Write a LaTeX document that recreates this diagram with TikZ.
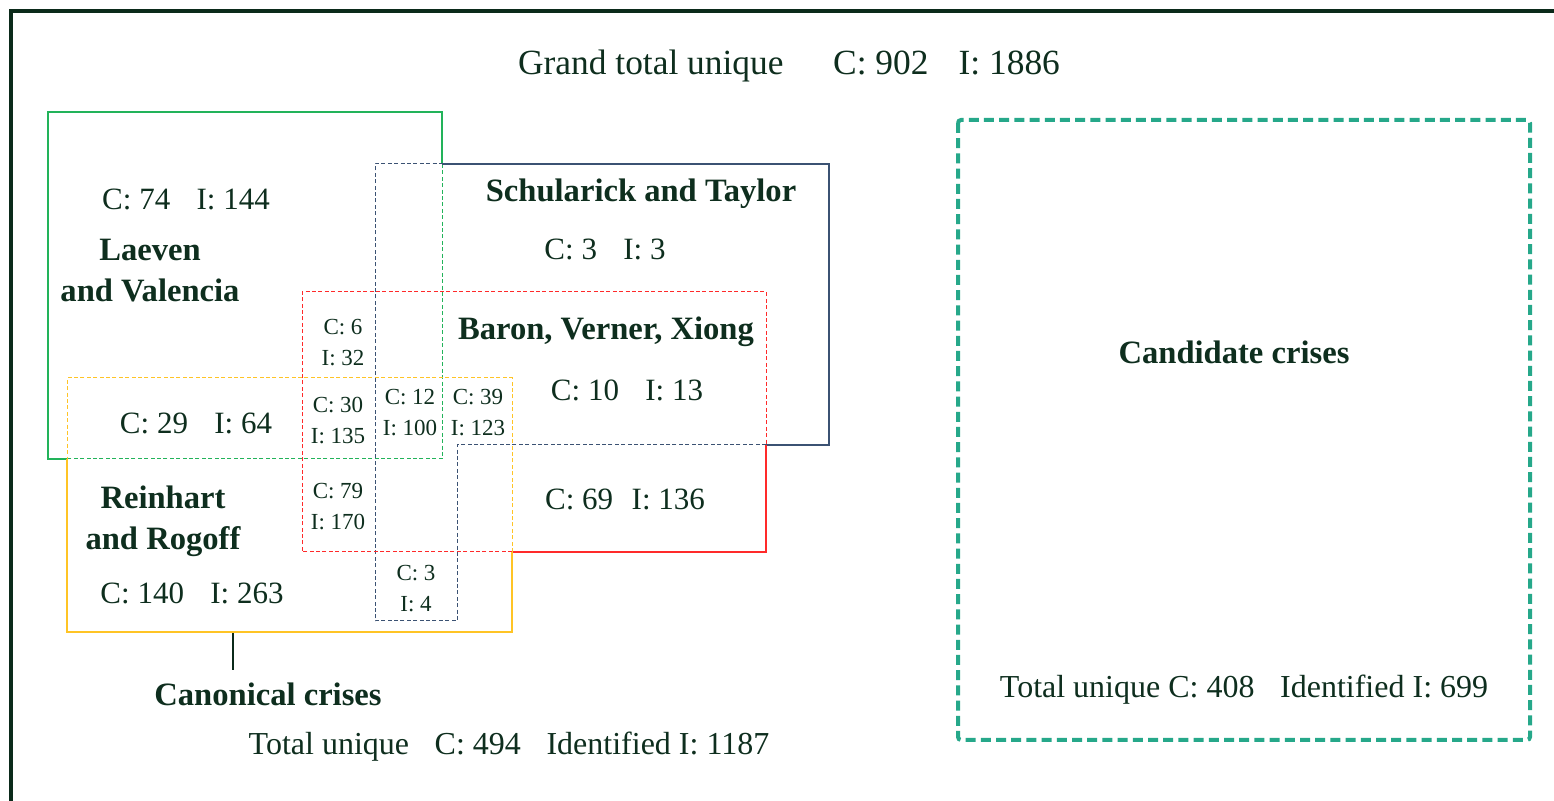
\documentclass[tikz,border=0pt]{standalone}
\usepackage{fontspec}
\setmainfont{Liberation Serif}
\definecolor{txt}{HTML}{0E2E1E}
\definecolor{frame}{HTML}{0B2A1A}
\definecolor{lvgreen}{HTML}{22B35A}
\definecolor{stnavy}{HTML}{3B5273}
\definecolor{bvxred}{HTML}{FF2A2A}
\definecolor{rrgold}{HTML}{FFC425}
\definecolor{candteal}{HTML}{26A88A}
\begin{document}
\begin{tikzpicture}[x=0.5pt,y=-0.5pt,
  every node/.style={text=txt, inner sep=0pt},
  big/.style={font=\fontsize{15.5}{18}\selectfont},
  small/.style={font=\fontsize{11.5}{15.5}\selectfont, align=center},
  ttl/.style={font=\fontsize{16.3}{20.5}\selectfont\bfseries, align=center},
  solidline/.style={line width=1pt},
  dashline/.style={line width=0.5pt, dash pattern=on 2pt off 1.2pt}]
\useasboundingbox (0,0) rectangle (1554,801);
% outer frame
\draw[frame, line width=1.6pt] (11,801) -- (11,11) -- (1554,11);

% Laeven and Valencia (green)
\draw[lvgreen, solidline] (67,459) -- (48,459) -- (48,112) -- (442,112) -- (442,164);
\draw[lvgreen, dashline] (442,164) -- (442,459) -- (67,459);
% Schularick and Taylor (navy)
\draw[stnavy, solidline] (442,164) -- (829,164) -- (829,445) -- (766,445);
\draw[stnavy, dashline] (766,445) -- (457,445) -- (457,621) -- (375,621) -- (375,164) -- (442,164);
% Baron, Verner, Xiong (red)
\draw[bvxred, solidline] (766,445) -- (766,552) -- (512,552);
\draw[bvxred, dashline] (512,552) -- (302,552) -- (302,292) -- (766,292) -- (766,445);
% Reinhart and Rogoff (gold)
\draw[rrgold, solidline] (67,459) -- (67,632) -- (512,632) -- (512,552);
\draw[rrgold, dashline] (512,552) -- (512,378) -- (67,378) -- (67,459);
% Candidate crises box
\draw[candteal, line width=2pt, dash pattern=on 5pt off 2.6pt, rounded corners=1.5pt] (958,120) rectangle (1530,740);

% titles
\node[big, font=\fontsize{17.7}{20}\selectfont] (grand) at (789,66) {Grand total unique\hspace{1.4em}C: 902\hspace{0.85em}I: 1886};
\node[ttl] (lv) at (150,271) {Laeven\\and Valencia};
\node[ttl] (st) at (641,194) {Schularick and Taylor};
\node[ttl] (bvx) at (606,332) {Baron, Verner, Xiong};
\node[ttl] (rr) at (163,521) {Reinhart\\and Rogoff};
\node[ttl] (cand) at (1234,352) {Candidate crises};
\node[ttl] (canon) at (268,694) {Canonical crises};

% counts
\node[big] (lvonly) at (186,199) {C: 74\hspace{0.85em}I: 144};
\node[big] (stonly) at (605,249) {C: 3\hspace{0.85em}I: 3};
\node[big] (bvxonly) at (627,390) {C: 10\hspace{0.85em}I: 13};
\node[big] (lvrr) at (196,423) {C: 29\hspace{0.85em}I: 64};
\node[big] (bvxst) at (625,499) {C: 69\hspace{0.6em}I: 136};
\node[big] (rronly) at (192,593) {C: 140\hspace{0.85em}I: 263};
\node[small] (lvbvx) at (343,343) {C: 6\\I: 32};
\node[small] (lvbvxrr) at (338,421) {C: 30\\I: 135};
\node[small] (all4) at (410,413) {C: 12\\I: 100};
\node[small] (bvxrrst) at (478,413) {C: 39\\I: 123};
\node[small] (bvxrr) at (338,507) {C: 79\\I: 170};
\node[small] (rrst) at (416,589) {C: 3\\I: 4};

% totals
\node[big, font=\fontsize{16}{20}\selectfont] (canontot) at (509,747) {Total unique\hspace{0.8em}C: 494\hspace{0.8em}Identified I: 1187};
\node[big, font=\fontsize{16}{20}\selectfont] (candtot) at (1244,690) {Total unique C: 408\hspace{0.8em}Identified I: 699};

% connector
\coordinate (rrbottom) at (233,633);
\coordinate (canontop) at (233,670);
\draw[frame, line width=1pt] (rrbottom) -- (canontop);
\end{tikzpicture}
\end{document}
